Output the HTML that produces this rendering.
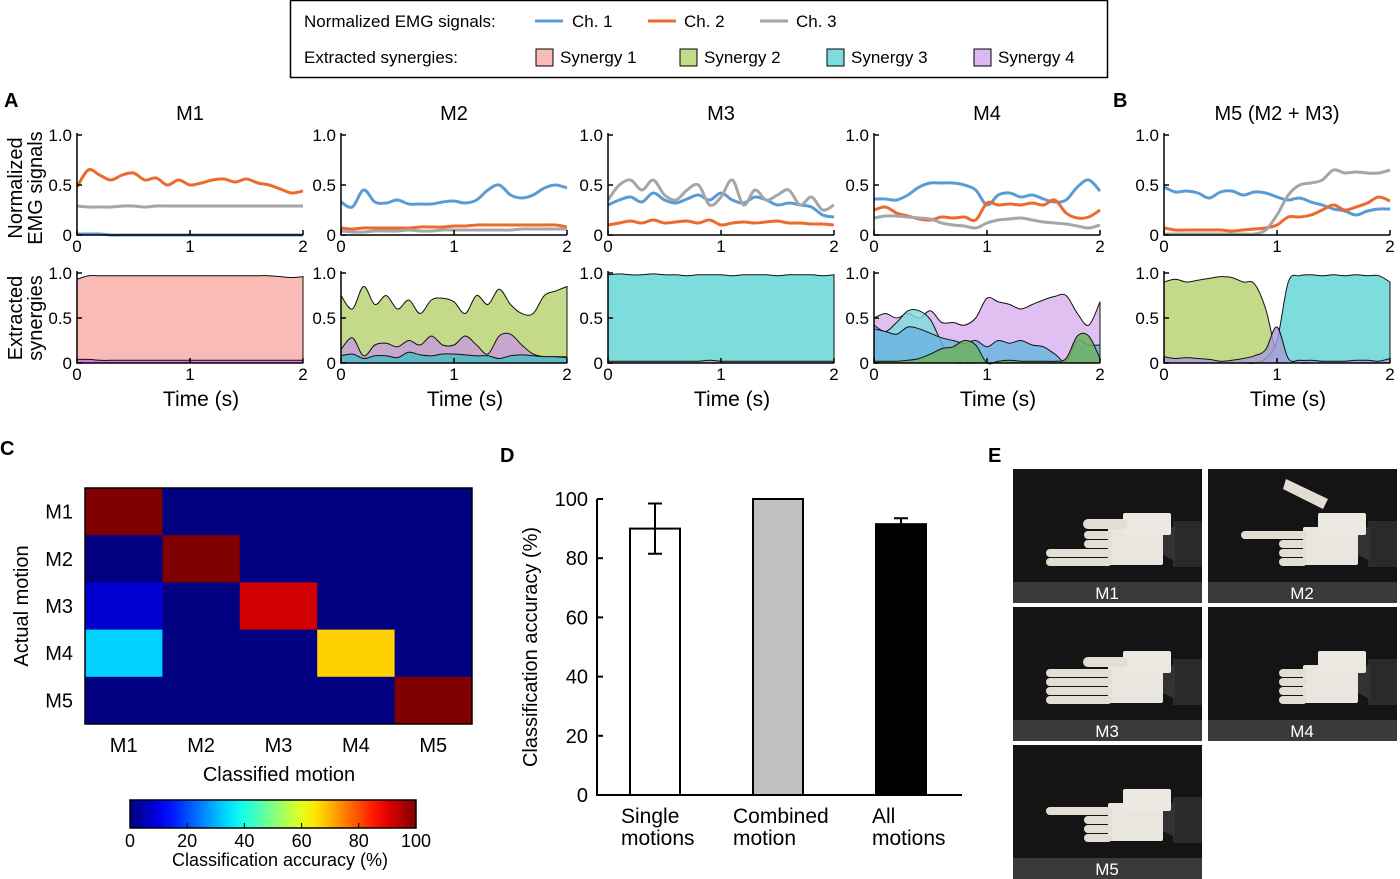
<!DOCTYPE html>
<html><head><meta charset="utf-8"><style>
body{margin:0;background:#fff;}
svg{display:block;font-family:"Liberation Sans",sans-serif;}
</style></head><body>
<svg id="fig" width="1400" height="879" viewBox="0 0 1400 879">
<g id="legend">
<rect x="290.5" y="0.5" width="817" height="77" fill="#fff" stroke="#000" stroke-width="1.5"/>
<text x="304" y="27" font-size="17">Normalized EMG signals:</text>
<text x="304" y="63" font-size="17">Extracted synergies:</text>
<g><line x1="535" y1="21" x2="563" y2="21" stroke="#5b9bd5" stroke-width="3"/><text x="572" y="27" font-size="17">Ch. 1</text></g>
<g><line x1="648" y1="21" x2="676" y2="21" stroke="#ed6a2f" stroke-width="3"/><text x="684" y="27" font-size="17">Ch. 2</text></g>
<g><line x1="760" y1="21" x2="788" y2="21" stroke="#a6a6a6" stroke-width="3"/><text x="796" y="27" font-size="17">Ch. 3</text></g>
<g><rect x="536" y="49" width="17" height="17" fill="#f8bbb5" stroke="#000"/><text x="560" y="63" font-size="17">Synergy 1</text></g>
<g><rect x="680" y="49" width="17" height="17" fill="#c4d98a" stroke="#000"/><text x="704" y="63" font-size="17">Synergy 2</text></g>
<g><rect x="827" y="49" width="17" height="17" fill="#7ddcdc" stroke="#000"/><text x="851" y="63" font-size="17">Synergy 3</text></g>
<g><rect x="974" y="49" width="17" height="17" fill="#ddb8f0" stroke="#000"/><text x="998" y="63" font-size="17">Synergy 4</text></g>
</g>
<text x="4" y="107" font-size="20" font-weight="bold">A</text>
<text x="1113" y="107" font-size="20" font-weight="bold">B</text>
<text x="0" y="455" font-size="20" font-weight="bold">C</text>
<text x="500" y="462" font-size="20" font-weight="bold">D</text>
<text x="988" y="462" font-size="20" font-weight="bold">E</text>
<g font-size="20">
<text transform="translate(22,188) rotate(-90)" text-anchor="middle">Normalized</text>
<text transform="translate(42,188) rotate(-90)" text-anchor="middle">EMG signals</text></g>
<g font-size="20">
<text transform="translate(22,318) rotate(-90)" text-anchor="middle">Extracted</text>
<text transform="translate(42,318) rotate(-90)" text-anchor="middle">synergies</text></g>
<g id="panels"></g>
<g id="heat"></g>
<g id="bars"></g>
<g id="photos"></g>
</svg>
<script>
const timeTicks=[0,1,2];
const yTicks=[0,0.5,1.0];
const yTickLabels=["0","0.5","1.0"];
const panelTitles=["M1","M2","M3","M4","M5 (M2 + M3)"];
// EMG channels per motion (sampled every 0.1 s)
const m1Ch1=[0.01,0.01,0.01,0,0,0,0,0,0,0,0,0,0,0,0,0,0,0,0,0,0];
const m1Ch2=[0.48,0.65,0.6,0.55,0.6,0.62,0.55,0.57,0.5,0.55,0.5,0.52,0.55,0.56,0.53,0.56,0.52,0.5,0.46,0.42,0.44];
const m1Ch3=[0.29,0.28,0.28,0.28,0.29,0.29,0.28,0.29,0.29,0.29,0.29,0.29,0.29,0.29,0.29,0.29,0.29,0.29,0.29,0.29,0.29];
const m2Ch1=[0.33,0.28,0.45,0.33,0.32,0.35,0.31,0.31,0.31,0.33,0.34,0.32,0.35,0.45,0.5,0.4,0.37,0.4,0.47,0.5,0.47];
const m2Ch2=[0.07,0.06,0.07,0.07,0.07,0.07,0.07,0.08,0.08,0.08,0.09,0.09,0.1,0.1,0.1,0.1,0.1,0.1,0.1,0.1,0.08];
const m2Ch3=[0.04,0.03,0.03,0.04,0.04,0.04,0.05,0.04,0.04,0.05,0.05,0.05,0.05,0.05,0.05,0.05,0.06,0.06,0.06,0.06,0.06];
const m3Ch1=[0.3,0.35,0.38,0.33,0.42,0.35,0.32,0.36,0.4,0.35,0.42,0.35,0.32,0.38,0.35,0.3,0.32,0.3,0.28,0.2,0.18];
const m3Ch2=[0.1,0.12,0.14,0.12,0.15,0.12,0.13,0.14,0.12,0.15,0.1,0.12,0.13,0.12,0.13,0.14,0.12,0.12,0.11,0.11,0.1];
const m3Ch3=[0.35,0.5,0.55,0.45,0.55,0.4,0.35,0.45,0.5,0.3,0.38,0.55,0.3,0.45,0.35,0.4,0.45,0.3,0.38,0.25,0.3];
const m4Ch1=[0.36,0.36,0.35,0.4,0.48,0.52,0.52,0.52,0.5,0.45,0.3,0.4,0.42,0.38,0.4,0.36,0.33,0.35,0.48,0.55,0.44];
const m4Ch2=[0.25,0.28,0.22,0.19,0.16,0.15,0.18,0.17,0.18,0.15,0.32,0.3,0.31,0.3,0.32,0.3,0.35,0.22,0.17,0.18,0.25];
const m4Ch3=[0.17,0.19,0.19,0.18,0.17,0.16,0.12,0.1,0.09,0.07,0.12,0.15,0.16,0.17,0.15,0.13,0.12,0.11,0.09,0.07,0.1];
const m5Ch1=[0.48,0.43,0.44,0.42,0.37,0.43,0.44,0.4,0.43,0.42,0.38,0.35,0.37,0.33,0.3,0.26,0.24,0.2,0.24,0.26,0.26];
const m5Ch2=[0.07,0.05,0.05,0.05,0.05,0.05,0.04,0.05,0.06,0.07,0.1,0.18,0.18,0.2,0.25,0.3,0.25,0.28,0.32,0.38,0.34];
const m5Ch3=[0.01,0.01,0.01,0.01,0.01,0.01,0.01,0.01,0.01,0.05,0.2,0.4,0.5,0.52,0.55,0.65,0.62,0.63,0.62,0.62,0.65];
// synergy activations (drawn as overlapping areas from 0, in listed order)
const m1Syn1=[0.93,0.97,0.97,0.97,0.97,0.97,0.97,0.97,0.97,0.97,0.97,0.97,0.97,0.97,0.97,0.97,0.97,0.97,0.96,0.95,0.96];
const m1Syn4=[0.04,0.04,0.03,0.03,0.03,0.03,0.03,0.03,0.03,0.03,0.03,0.03,0.03,0.03,0.03,0.03,0.03,0.03,0.03,0.03,0.03];
const m2Syn2=[0.75,0.6,0.85,0.65,0.75,0.6,0.7,0.55,0.7,0.72,0.68,0.55,0.75,0.65,0.82,0.65,0.55,0.55,0.75,0.8,0.85];
const m2Syn4=[0.15,0.28,0.08,0.2,0.22,0.18,0.25,0.2,0.3,0.2,0.2,0.3,0.2,0.1,0.3,0.32,0.2,0.1,0.07,0.07,0.07];
const m2Syn3=[0.08,0.1,0.05,0.08,0.08,0.06,0.12,0.09,0.08,0.1,0.1,0.09,0.08,0.08,0.05,0.08,0.09,0.08,0.07,0.07,0.06];
const m3Syn3=[0.98,0.99,0.98,0.98,0.99,0.98,0.98,0.97,0.98,0.98,0.98,0.97,0.98,0.98,0.98,0.97,0.98,0.98,0.98,0.97,0.98];
const m3Syn4=[0.02,0.02,0.02,0.02,0.02,0.02,0.02,0.02,0.02,0.03,0.02,0.02,0.02,0.02,0.02,0.02,0.02,0.02,0.02,0.02,0.02];
const m4Syn4=[0.5,0.55,0.5,0.55,0.5,0.58,0.45,0.45,0.42,0.5,0.72,0.68,0.65,0.6,0.65,0.7,0.74,0.75,0.55,0.42,0.68];
const m4Syn3=[0.42,0.35,0.45,0.58,0.58,0.48,0.22,0.02,0,0,0,0,0,0,0,0,0,0,0,0,0];
const m4SynB=[0.38,0.35,0.32,0.4,0.38,0.33,0.28,0.25,0.22,0.25,0.18,0.25,0.22,0.25,0.2,0.18,0.1,0.02,0.25,0.2,0.2];
const m4Syn2=[0.02,0.02,0.02,0.03,0.05,0.1,0.16,0.18,0.25,0.2,0.0,0.02,0.03,0.02,0.02,0.02,0.02,0.05,0.3,0.3,0.05];
const m5Syn2=[0.9,0.93,0.9,0.92,0.94,0.96,0.95,0.9,0.88,0.6,0.1,0.02,0,0,0,0,0,0,0,0,0];
const m5Syn3=[0,0,0,0,0,0,0,0,0,0.05,0.25,0.9,0.97,0.98,0.97,0.98,0.97,0.98,0.97,0.97,0.9];
const m5Syn4=[0.07,0.05,0.06,0.05,0.04,0.02,0.03,0.05,0.08,0.15,0.4,0.05,0.03,0.03,0.02,0.02,0.02,0.03,0.03,0.02,0.05];

const SVGNS="http://www.w3.org/2000/svg";
function mk(tag,attrs,parent){const e=document.createElementNS(SVGNS,tag);for(const k in attrs)e.setAttribute(k,attrs[k]);parent.appendChild(e);return e;}
function smooth(pts){let d="M"+pts[0][0]+","+pts[0][1];for(let i=0;i<pts.length-1;i++){const p0=pts[i-1]||pts[i],p1=pts[i],p2=pts[i+1],p3=pts[i+2]||p2;const c1=[p1[0]+(p2[0]-p0[0])/6,p1[1]+(p2[1]-p0[1])/6],c2=[p2[0]-(p3[0]-p1[0])/6,p2[1]-(p3[1]-p1[1])/6];d+="C"+c1[0].toFixed(1)+","+c1[1].toFixed(1)+" "+c2[0].toFixed(1)+","+c2[1].toFixed(1)+" "+p2[0].toFixed(1)+","+p2[1].toFixed(1);}return d;}

const panelX0=[77,341,608,874,1164];
const panelW=226;
const chColors=["#5b9bd5","#ed6a2f","#a6a6a6"];
const emgData=[[m1Ch1,m1Ch2,m1Ch3],[m2Ch1,m2Ch2,m2Ch3],[m3Ch1,m3Ch2,m3Ch3],[m4Ch1,m4Ch2,m4Ch3],[m5Ch1,m5Ch2,m5Ch3]];
const synData=[
 [[m1Syn1,"#f8bbb5",1],[m1Syn4,"#e070e0",1]],
 [[m2Syn2,"#c4d98a",1],[m2Syn4,"#c7a7cc",1],[m2Syn3,"#5fb8c6",1]],
 [[m3Syn3,"#7ddcdc",1],[m3Syn4,"#c7a7cc",1]],
 [[m4Syn4,"#ddb8f0",0.9],[m4Syn3,"#7ddcdc",0.8],[m4SynB,"#6bb6e0",0.85],[m4Syn2,"#6fb060",0.85]],
 [[m5Syn2,"#c4d98a",1],[m5Syn3,"#7ddcdc",1],[m5Syn4,"#aa9ad8",0.8]]];
const panels=document.getElementById('panels');
panelX0.forEach((x0,pi)=>{
 const g=mk('g',{},panels);
 
 
 const t=mk('text',{x:x0+113,y:120,'font-size':20,'text-anchor':'middle'},g);t.textContent=panelTitles[pi];
 
 
 const xs=v=>x0+v/2*panelW;
 [[135,235,'emg'],[273,363,'syn']].forEach(([yt,yb,kind])=>{
  const ys=v=>yb-v*(yb-yt);
  const plot=mk('g',{},g);
  
  
  if(kind==='emg'){
   emgData[pi].forEach((arr,ci)=>{
    const pts=arr.map((v,i)=>[xs(i*0.1),ys(v)]);
    const p=mk('path',{d:smooth(pts),fill:'none',stroke:chColors[ci],'stroke-width':3},plot);
    
    
   });
  }else{
   synData[pi].forEach(([arr,col,op],si)=>{
    const pts=arr.map((v,i)=>[xs(i*0.1),ys(v)]);
    const d=smooth(pts)+"L"+xs(2)+","+ys(0)+"L"+xs(0)+","+ys(0)+"Z";
    const p=mk('path',{d:d,fill:col,'fill-opacity':op,stroke:'#111','stroke-width':1},plot);
    
    
   });
  }
  mk('path',{d:`M${x0},${yt-2}V${yb}H${x0+panelW}`,fill:'none',stroke:'#000','stroke-width':1.5},plot);
  yTicks.forEach((v,i)=>{mk('line',{x1:x0,x2:x0+5,y1:ys(v),y2:ys(v),stroke:'#000','stroke-width':1.5},plot);
   const tl=mk('text',{x:x0-5,y:ys(v)+6,'font-size':17,'text-anchor':'end'},plot);tl.textContent=yTickLabels[i];});
  timeTicks.forEach(v=>{mk('line',{x1:xs(v),x2:xs(v),y1:yb,y2:yb-5,stroke:'#000','stroke-width':1.5},plot);
   const tl=mk('text',{x:xs(v),y:yb+17,'font-size':17,'text-anchor':'middle'},plot);tl.textContent=String(v);});
 });
 const xl=mk('text',{x:x0+124,y:406,'font-size':21,'text-anchor':'middle'},g);xl.textContent='Time (s)';
 
 
});

// Panel C heatmap
const motions=["M1","M2","M3","M4","M5"];
const confRows=[[100,0,0,0,0],[0,100,0,0,0],[8,0,92,0,0],[33,0,0,67,0],[0,0,0,0,100]];
const cbTicks=[0,20,40,60,80,100];
function jet(v){const x=v/100;const c=t=>Math.round(255*Math.max(0,Math.min(1,t)));return `rgb(${c(1.5-Math.abs(4*x-3))},${c(1.5-Math.abs(4*x-2))},${c(1.5-Math.abs(4*x-1))})`;}
const heat=document.getElementById('heat');
const hx0=85,hy0=488,cw=77.4,ch=47.2;
confRows.forEach((row,r)=>row.forEach((v,c)=>{
 const cell=mk('rect',{x:hx0+c*cw,y:hy0+r*ch,width:cw+0.5,height:ch+0.5,fill:jet(v)},heat);
 
 
}));
mk('rect',{x:hx0,y:hy0,width:cw*5,height:ch*5,fill:'none',stroke:'#000','stroke-width':1.5},heat);
motions.forEach((m,i)=>{
 const a=mk('text',{x:hx0-12,y:hy0+i*ch+ch/2+7,'font-size':20,'text-anchor':'end'},heat);a.textContent=m;
 const b=mk('text',{x:hx0+i*cw+cw/2,y:752,'font-size':20,'text-anchor':'middle'},heat);b.textContent=m;
});
const ha=mk('text',{x:279,y:781,'font-size':20,'text-anchor':'middle'},heat);ha.textContent='Classified motion';


const hb=mk('text',{transform:'translate(28,606) rotate(-90)','font-size':20,'text-anchor':'middle'},heat);hb.textContent='Actual motion';


const defs=mk('defs',{},heat);const lg=mk('linearGradient',{id:'jetg'},defs);
for(let i=0;i<=20;i++)mk('stop',{offset:(i/20),'stop-color':jet(i*5)},lg);
const cbx0=130,cbw=286;
const cb=mk('rect',{x:cbx0,y:800,width:cbw,height:28,fill:'url(#jetg)',stroke:'#000','stroke-width':1.5},heat);


cbTicks.forEach(v=>{const x=cbx0+v/100*cbw;mk('line',{x1:x,x2:x,y1:828,y2:823,stroke:'#000'},heat);
 const t=mk('text',{x:x,y:847,'font-size':18,'text-anchor':'middle'},heat);t.textContent=String(v);});
const ct=mk('text',{x:280,y:866,'font-size':18,'text-anchor':'middle'},heat);ct.textContent='Classification accuracy (%)';

// Panel D bars
const barCats=[["Single","motions"],["Combined","motion"],["All","motions"]];
const barVals=[90,100,91.5];
const barErr=[8.5,0,2];
const barFill=["#fff","#c0c0c0","#000"];
const accTicks=[0,20,40,60,80,100];
const bars=document.getElementById('bars');
const by=v=>795-v*2.96;
const bx=[655,778,901];
barVals.forEach((v,i)=>{
 const r=mk('rect',{x:bx[i]-25,y:by(v),width:50,height:by(0)-by(v),fill:barFill[i],stroke:'#000','stroke-width':2},bars);
 
 
 if(barErr[i]>0){mk('path',{d:`M${bx[i]},${by(v-barErr[i])}V${by(v+barErr[i])}M${bx[i]-7},${by(v+barErr[i])}H${bx[i]+7}M${bx[i]-7},${by(v-barErr[i])}H${bx[i]+7}`,stroke:'#000','stroke-width':2,fill:'none'},bars);}
 const lx=[621,733,872][i];
 barCats[i].forEach((s,j)=>{const t=mk('text',{x:lx,y:823+j*22,'font-size':21},bars);t.textContent=s;});
});
mk('path',{d:`M597,${by(100)}V795H962`,fill:'none',stroke:'#000','stroke-width':2},bars);
accTicks.forEach(v=>{mk('line',{x1:597,x2:603,y1:by(v),y2:by(v),stroke:'#000','stroke-width':2},bars);
 const t=mk('text',{x:588,y:by(v)+7,'font-size':20,'text-anchor':'end'},bars);t.textContent=String(v);});
const dy=mk('text',{transform:'translate(537,647) rotate(-90)','font-size':20,'text-anchor':'middle'},bars);dy.textContent='Classification accuracy (%)';



// Panel E photos
const photoNames=["M1","M2","M3","M4","M5"];
const photoPos=[[1013,469],[1208,469],[1013,607],[1208,607],[1013,745]];
const fingersExt=[[1,0,0,1,1],[0,1,0,0,0],[1,1,1,1,1],[0,0,0,0,0],[0,1,0,0,0]];
const photos=document.getElementById('photos');
photoPos.forEach(([x,y],i)=>{
 const g=mk('g',{},photos);
 
 
 mk('rect',{x:x,y:y,width:189,height:134,fill:'#141414'},g);
 mk('rect',{x:x,y:y+113,width:189,height:21,fill:'#3a3a3a'},g);
 const t=mk('text',{x:x+94,y:y+130,'font-size':17,'fill':'#fff','text-anchor':'middle'},g);t.textContent=photoNames[i];
 mk('rect',{x:x+160,y:y+52,width:29,height:46,fill:'#2a2a2a'},g);
 mk('path',{d:`M${x+150},${y+62}L${x+162},${y+57}V${y+92}L${x+150},${y+86}Z`,fill:'#333'},g);
 mk('rect',{x:x+95,y:y+58,width:55,height:38,fill:'#e9e6df',rx:2},g);
 mk('rect',{x:x+110,y:y+44,width:48,height:22,fill:'#ece9e2',rx:2},g);
 const ext=fingersExt[i];
 for(let f=0;f<4;f++){
  const fy=y+62+f*9;
  const len=ext[f+1]?62:24;
  mk('rect',{x:x+95-len,y:fy,width:len+4,height:8,rx:4,fill:'#e2ded4'},g);
 }
 if(ext[0]) mk('rect',{x:x+70,y:y+50,width:45,height:10,rx:5,fill:'#e2ded4'},g);
 if(i===1) mk('path',{d:`M${x+78},${y+10}L${x+120},${y+30}L${x+115},${y+40}L${x+75},${y+20}Z`,fill:'#e2ded4'},g);
});
</script>
</body></html>
